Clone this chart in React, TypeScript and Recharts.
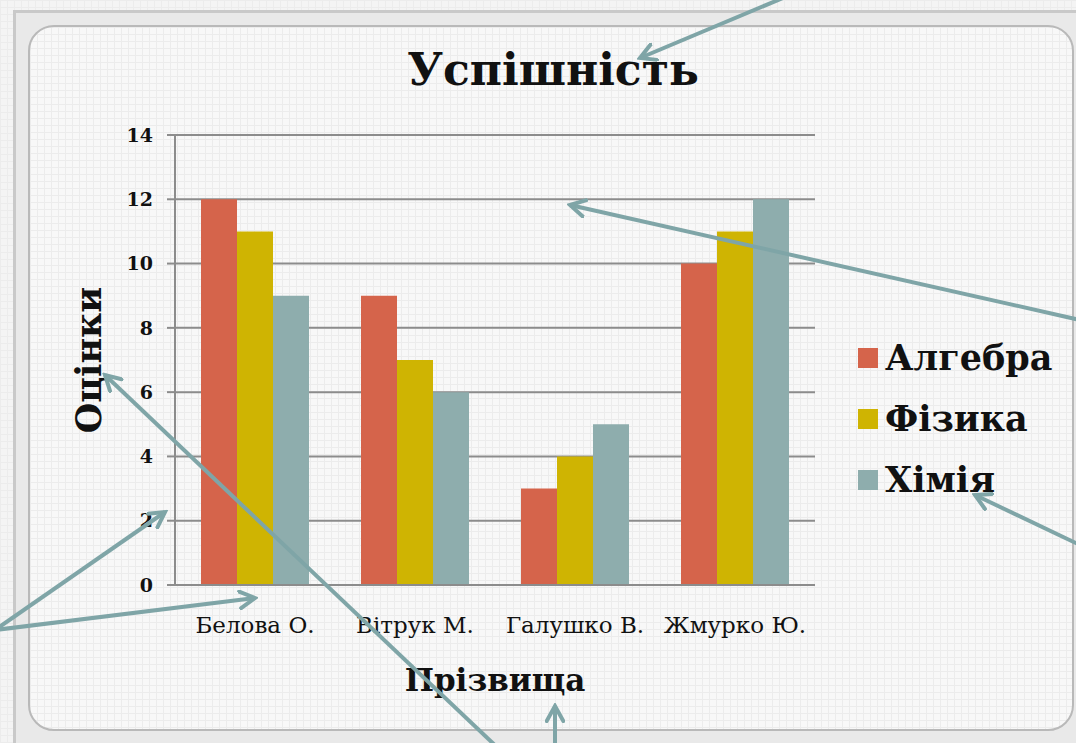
import { BarChart, Bar, XAxis, YAxis, CartesianGrid } from 'recharts';

const students = ['Белова О.', 'Вітрук М.', 'Галушко В.', 'Жмурко Ю.'];
const algebra = [12, 9, 3, 10];
const physics = [11, 7, 4, 11];
const chemistry = [9, 6, 5, 12];
const yTicks = [0, 2, 4, 6, 8, 10, 12, 14];

const series = [
  { key: 'algebra', name: 'Алгебра', color: '#d5644b' },
  { key: 'physics', name: 'Фізика', color: '#cfb402' },
  { key: 'chemistry', name: 'Хімія', color: '#8eadad' },
];

const data = students.map((name, i) => ({
  name,
  algebra: algebra[i],
  physics: physics[i],
  chemistry: chemistry[i],
}));

const serif = '"DejaVu Serif", "Liberation Serif", serif';
const gridBg =
  'linear-gradient(#ececec 1px, transparent 1px), linear-gradient(90deg, #ececec 1px, transparent 1px)';

// annotation arrows from the slide, drawn on top of the chart
const arrows = [
  { x1: 790, y1: -5, x2: 640, y2: 58 },
  { x1: 1080, y1: 320, x2: 570, y2: 205 },
  { x1: 1080, y1: 545, x2: 975, y2: 495 },
  { x1: -5, y1: 630, x2: 165, y2: 512 },
  { x1: -5, y1: 630, x2: 255, y2: 598 },
  { x1: 500, y1: 750, x2: 105, y2: 375 },
  { x1: 555, y1: 750, x2: 555, y2: 706 },
];

export default function App() {
  return (
    <div
      style={{
        position: 'absolute',
        left: 0,
        top: 0,
        width: 1076,
        height: 743,
        overflow: 'hidden',
        backgroundColor: '#f4f4f4',
        backgroundImage: gridBg,
        backgroundSize: '7px 7px',
      }}
    >
      <div
        style={{
          position: 'absolute',
          left: 13,
          top: 10,
          width: 1080,
          height: 740,
          border: '3px solid #c9c9c9',
          background: '#e9e9e9',
        }}
      />
      <div
        style={{
          position: 'absolute',
          left: 28,
          top: 25,
          width: 1042,
          height: 702,
          border: '2px solid #b9b9b9',
          borderRadius: 26,
          backgroundColor: '#f8f8f8',
          backgroundImage: gridBg,
          backgroundSize: '7px 7px',
        }}
      />
      <div
        style={{
          position: 'absolute',
          left: 0,
          width: 1106,
          top: 44,
          textAlign: 'center',
          fontFamily: serif,
          fontWeight: 'bold',
          fontSize: 44,
          color: '#111',
        }}
      >
        Успішність
      </div>
      <div
        style={{
          position: 'absolute',
          left: 88,
          top: 360,
          transform: 'translate(-50%, -50%) rotate(-90deg)',
          fontFamily: serif,
          fontWeight: 'bold',
          fontSize: 35,
          color: '#111',
          whiteSpace: 'nowrap',
        }}
      >
        Оцінки
      </div>
      <div
        style={{
          position: 'absolute',
          left: 495,
          top: 680,
          transform: 'translate(-50%, -50%)',
          fontFamily: serif,
          fontWeight: 'bold',
          fontSize: 31,
          color: '#111',
          whiteSpace: 'nowrap',
        }}
      >
        Прізвища
      </div>
      <div
        style={{
          position: 'absolute',
          left: 858,
          top: 327,
          fontFamily: serif,
          fontWeight: 'bold',
          fontSize: 35,
          color: '#111',
        }}
      >
        {series.map((s) => (
          <div key={s.key} style={{ display: 'flex', alignItems: 'center', height: 61 }}>
            <span style={{ width: 20, height: 20, background: s.color, marginRight: 7 }} />
            {s.name}
          </div>
        ))}
      </div>
      <div style={{ position: 'absolute', left: 0, top: 0 }}>
        <BarChart
          width={1076}
          height={743}
          data={data}
          margin={{ top: 135, right: 261, bottom: 0, left: 105 }}
          barCategoryGap={26}
          barGap={0}
        >
          <CartesianGrid vertical={false} stroke="#8c8c8c" strokeWidth={2} />
          <XAxis
            dataKey="name"
            height={158}
            tickLine={false}
            axisLine={{ stroke: '#8c8c8c', strokeWidth: 2 }}
            tickMargin={26}
            tick={{ fontFamily: serif, fontSize: 23, fill: '#111' }}
            interval={0}
          />
          <YAxis
            width={70}
            domain={[0, 14]}
            ticks={yTicks}
            tickSize={8}
            tickMargin={14}
            tickLine={{ stroke: '#8c8c8c', strokeWidth: 2 }}
            axisLine={{ stroke: '#8c8c8c', strokeWidth: 2 }}
            tick={{ fontFamily: serif, fontSize: 19, fontWeight: 'bold', fill: '#111' }}
          />
          {series.map((s) => (
            <Bar key={s.key} dataKey={s.key} name={s.name} fill={s.color} isAnimationActive={false} />
          ))}
        </BarChart>
      </div>
      <svg
        width={1076}
        height={743}
        style={{ position: 'absolute', left: 0, top: 0, pointerEvents: 'none' }}
      >
        <defs>
          <marker
            id="head"
            viewBox="0 0 12 12"
            refX="10"
            refY="6"
            markerWidth="5"
            markerHeight="5"
            orient="auto"
            markerUnits="strokeWidth"
          >
            <path d="M1,1 L10,6 L1,11" fill="none" stroke="#7fa5a7" strokeWidth={2.4} strokeLinecap="round" />
          </marker>
        </defs>
        {arrows.map((a, i) => (
          <line
            key={i}
            x1={a.x1}
            y1={a.y1}
            x2={a.x2}
            y2={a.y2}
            stroke="#7fa5a7"
            strokeWidth={4}
            markerEnd="url(#head)"
          />
        ))}
      </svg>
    </div>
  );
}
